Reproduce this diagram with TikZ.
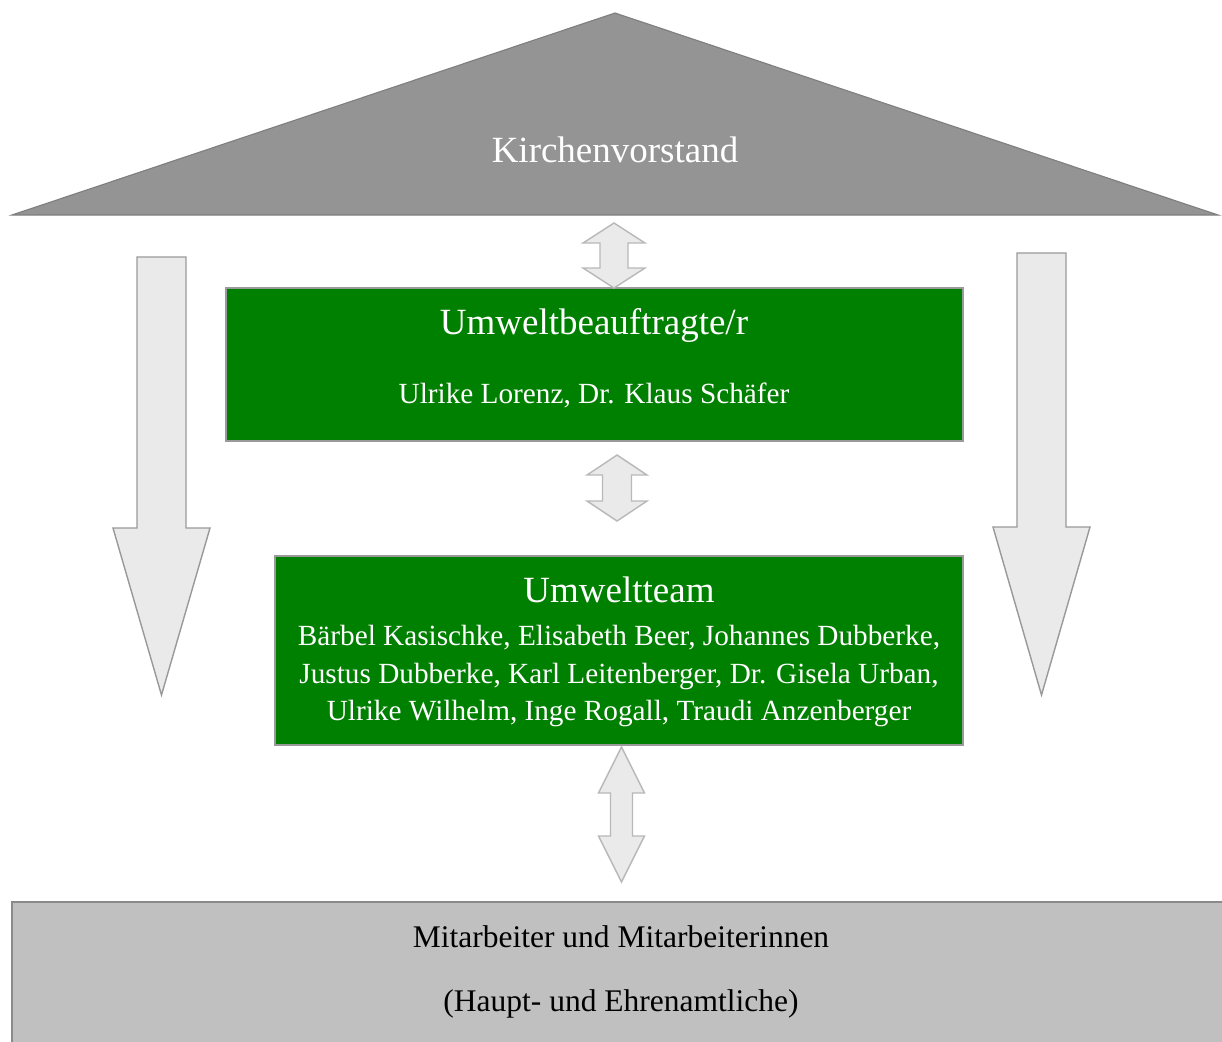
\documentclass[tikz,border=0pt]{standalone}
\usepackage{fontspec}
\setmainfont{Liberation Serif}
\usepackage{xcolor}
\usetikzlibrary{positioning,calc}
\definecolor{roofgray}{HTML}{949494}
\definecolor{roofline}{HTML}{7F7F7F}
\definecolor{teamgreen}{HTML}{008000}
\definecolor{boxline}{HTML}{9A9A9A}
\definecolor{arrowfill}{HTML}{EAEAEA}
\definecolor{arrowline}{HTML}{999999}
\definecolor{twowayline}{HTML}{B8B8B8}
\definecolor{basegray}{HTML}{C0C0C0}
\definecolor{baseline}{HTML}{8A8A8A}
\tikzset{
roof/.style = {draw=roofline, fill=roofgray, line width=0.8pt},
greenbox/.style = {draw=boxline, fill=teamgreen, line width=1pt},
basebox/.style = {draw=baseline, fill=basegray, line width=1.4pt},
bigarrow/.style = {draw=arrowline, fill=arrowfill, line width=1pt},
twoway/.style = {draw=twowayline, fill=arrowfill, line width=1pt},
bigtext/.style = {anchor=base, inner sep=0pt, text=white, font=\fontsize{26.3pt}{30pt}\selectfont},
smalltext/.style = {anchor=base, inner sep=0pt, text=white, font=\fontsize{20.8pt}{25pt}\selectfont},
basetext/.style = {anchor=base, inner sep=0pt, text=black, font=\fontsize{22.4pt}{26pt}\selectfont}
}
% downward block arrow: centre x, top y, head y, tip y, shaft half width, head half width
\newcommand{\sidearrow}[6]{%
  \draw[bigarrow] (#1-#5,#2) -- (#1+#5,#2) -- (#1+#5,#3) -- (#1+#6,#3) -- (#1,#4)
    -- (#1-#6,#3) -- (#1-#5,#3) -- cycle;}
% two-way block arrow: centre x, top y, bottom y, shaft half width, head half width, head length
\newcommand{\twowayarrow}[6]{%
  \draw[twoway] (#1,#2) -- (#1+#5,#2+#6) -- (#1+#4,#2+#6) -- (#1+#4,#3-#6) -- (#1+#5,#3-#6)
    -- (#1,#3) -- (#1-#5,#3-#6) -- (#1-#4,#3-#6) -- (#1-#4,#2+#6) -- (#1-#5,#2+#6) -- cycle;}
\begin{document}
\begin{tikzpicture}[x=0.025cm, y=-0.025cm]
    \useasboundingbox (0,0) rectangle (1222,1041);

    % roof
    \coordinate (roofleft) at (12,215);
    \coordinate (rooftop) at (615,13);
    \coordinate (roofright) at (1218,215);
    \draw[roof] (roofleft) -- (rooftop) -- (roofright) -- cycle;
    \node[bigtext] (kv) at (615,162) {Kirchenvorstand};

    % side arrows
    \sidearrow{161.5}{257}{528}{695}{24.5}{48.5}
    \sidearrow{1041.5}{253}{527}{695}{24.5}{48.5}

    % boxes
    \node[greenbox, minimum width=18.425cm, minimum height=3.825cm] (ub) at (594.5,364.5) {};
    \node[bigtext] (ubtitle) at (594,334) {Umweltbeauftragte/r};
    \node[smalltext] (ubnames) at (594,403) {Ulrike Lorenz, Dr. Klaus Schäfer};

    \node[greenbox, minimum width=17.2cm, minimum height=4.725cm] (team) at (619,650.5) {};
    \node[bigtext] (teamtitle) at (619,602) {Umweltteam};
    \node[smalltext] (team1) at (619,645) {Bärbel Kasischke, Elisabeth Beer, Johannes Dubberke,};
    \node[smalltext] (team2) at (619,683) {Justus Dubberke, Karl Leitenberger, Dr. Gisela Urban,};
    \node[smalltext] (team3) at (619,720) {Ulrike Wilhelm, Inge Rogall, Traudi Anzenberger};

    \draw[basebox] (12,902) rectangle (1240,1060);
    \node[basetext] (staff1) at (621,947) {Mitarbeiter und Mitarbeiterinnen};
    \node[basetext] (staff2) at (621,1011) {(Haupt- und Ehrenamtliche)};

    % two-way arrows
    \twowayarrow{614}{223}{288}{14}{31}{20}
    \twowayarrow{617}{455}{521}{14.5}{30}{20}
    \twowayarrow{621.5}{747}{882}{11}{23}{46}
\end{tikzpicture}
\end{document}
